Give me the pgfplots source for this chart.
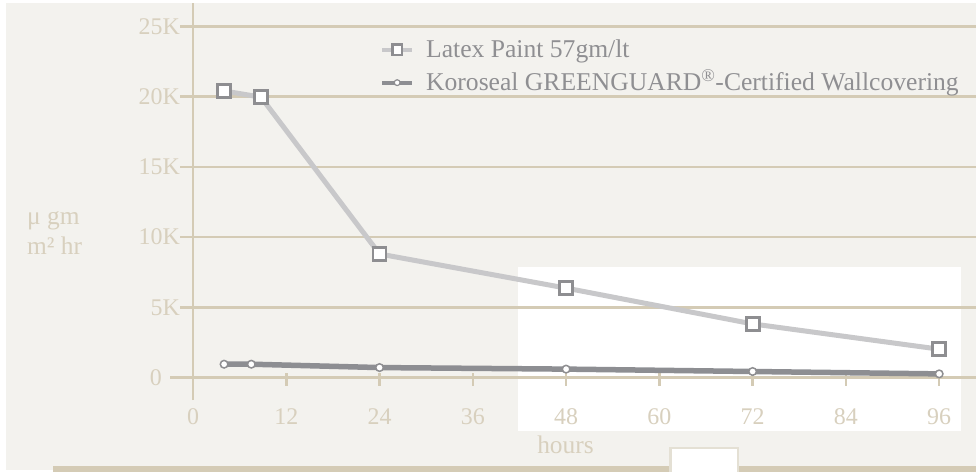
\documentclass[border=0pt]{standalone}
\usepackage{fontspec}
\setmainfont{Liberation Serif}
\usepackage{pgfplots}
\pgfplotsset{compat=1.18}
\definecolor{bg}{HTML}{F3F2EE}
\definecolor{tanline}{HTML}{D4CBB5}
\definecolor{tantext}{HTML}{D8D0BE}
\definecolor{lightline}{HTML}{C8C8CA}
\definecolor{darkline}{HTML}{8D8E92}
\definecolor{mk}{HTML}{8E8E91}
\definecolor{legtext}{HTML}{8F8F92}
\definecolor{boxborder}{HTML}{E4E0D4}
\begin{document}
\begin{tikzpicture}
\path[use as bounding box] (0,0) rectangle (976bp,-472bp);
\fill[white] (0,0) rectangle (976bp,-472bp);
\fill[bg] (6bp,-3bp) rectangle (976bp,-470bp);
\fill[tanline] (53bp,-466bp) rectangle (976bp,-472bp);
\fill[white] (518bp,-267bp) rectangle (961bp,-431bp);
\filldraw[fill=white, draw=boxborder, line width=2.7bp] (670.6bp,-448bp) rectangle (738bp,-475bp);
\node[anchor=base west, inner sep=0pt, text=tantext, font=\fontsize{25.5}{30}\selectfont] at (27bp,-224bp) {μ gm};
\node[anchor=base west, inner sep=0pt, text=tantext, font=\fontsize{25.5}{30}\selectfont] at (27bp,-254bp) {m² hr};
\node[anchor=base, inner sep=0pt, text=tantext, font=\fontsize{25.5}{30}\selectfont] at (565.5bp,-453bp) {hours};
\begin{axis}[
  at={(170bp,-400bp)}, anchor=south west,
  scale only axis, width=806bp, height=397.2bp,
  xmin=-2.96, xmax=100.74, ymin=-1.6, ymax=26.69,
  axis x line=middle, axis y line=middle,
  axis line style={draw=tanline, line width=2.5bp, -},
  hide obscured x ticks=false, hide obscured y ticks=false,
  xtick={0,12,24,36,48,60,72,84,96},
  xticklabels={0,12,24,36,48,60,72,84,96},
  ytick={0,5,10,15,20,25},
  yticklabels={0\kern18bp,5K,10K,15K,20K,25K},
  tick align=outside,
  major tick length=13bp,
  tick style={draw=tanline, line width=2.5bp},
  xtick style={yshift=5bp},
  ticklabel style={font=\fontsize{24}{28}\selectfont, text=tantext},
  yticklabel style={inner sep=0pt},
  xticklabel style={yshift=-15bp},
  legend style={at={(axis description cs:0.2605,0.914)}, anchor=north west,
    draw=none, fill=none, inner sep=0pt,
    font=\fontsize{25.7}{30}\selectfont, text=legtext,
    nodes={inner sep=0pt, text height=20bp, text depth=7bp},
    row sep=6bp,
    /tikz/every odd column/.append style={column sep=12bp}},
  legend cell align=left,
]
\draw[tanline, line width=2.5bp] (axis cs:0,5) -- (axis cs:100.74,5);
\draw[tanline, line width=2.5bp] (axis cs:0,10) -- (axis cs:100.74,10);
\draw[tanline, line width=2.5bp] (axis cs:0,15) -- (axis cs:100.74,15);
\draw[tanline, line width=2.5bp] (axis cs:0,20) -- (axis cs:100.74,20);
\draw[tanline, line width=2.5bp] (axis cs:0,25) -- (axis cs:100.74,25);
\addplot[lightline, line width=5bp, mark=square*,
  mark options={draw=mk, fill=white, line width=2.8bp}, mark size=6.5bp,
  legend image code/.code={
    \draw[lightline, line width=4bp] (0bp,1bp) -- (30bp,1bp);
    \draw[draw=mk, fill=white, line width=2.4bp] (10.2bp,-4.2bp) rectangle (19.8bp,6.2bp);
  }]
  coordinates {(4,20.41) (8.75,19.97) (24,8.80) (48,6.37) (72,3.82) (96,2.02)};
\addlegendentry{Latex Paint 57gm/lt}
\addplot[darkline, line width=5.5bp, mark=*,
  mark options={draw=mk, fill=white, line width=1.5bp}, mark size=3.8bp,
  legend image code/.code={
    \draw[darkline, line width=4bp] (0bp,1bp) -- (30bp,1bp);
    \draw[draw=mk, fill=white, line width=1.2bp] (15bp,1bp) circle (2.9bp);
  }]
  coordinates {(4,0.95) (7.5,0.95) (24,0.71) (48,0.60) (72,0.43) (96,0.26)};
\addlegendentry{Koroseal GREENGUARD\textsuperscript{®}-Certified Wallcovering}
\end{axis}
\end{tikzpicture}
\end{document}
